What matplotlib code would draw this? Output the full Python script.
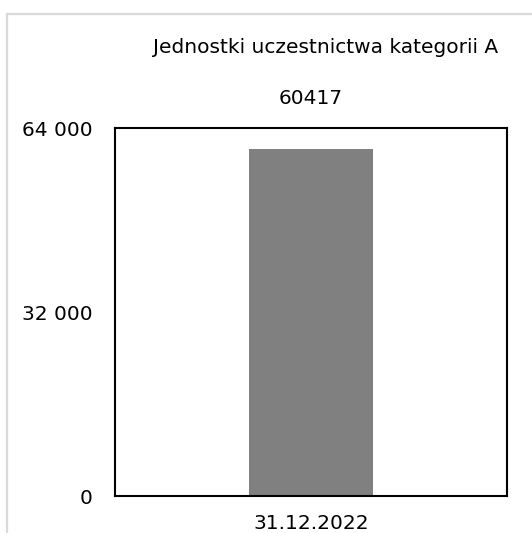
import matplotlib
matplotlib.use("Agg")
import matplotlib.pyplot as plt
from matplotlib.patches import Rectangle
import matplotlib.transforms as mtransforms

plt.rcParams['font.family'] = ['DejaVu Sans']

title = "Jednostki uczestnictwa kategorii A"
categories = ["31.12.2022"]
values = [60417]
data_labels = ["60417"]
yticks = [0, 32000, 64000]
ytick_labels = ["0", "32 000", "64 000"]

W, H = 532, 533
fig = plt.figure(figsize=(W / 100, H / 100), dpi=100)

# light gray outer frame
fig.patches.append(Rectangle((7 / W, -0.1), 1.2, (1 - 14 / H) + 0.1,
                             transform=fig.transFigure, facecolor='none',
                             edgecolor='#d9d9d9', linewidth=1.6, zorder=0))

ax = fig.add_axes([115 / W, 37 / H, 392 / W, 368 / H])
x = list(range(len(categories)))
ax.bar(x, values, width=0.314, color='#808080', zorder=2)
ax.set_xlim(-0.5, 0.5)
ax.set_ylim(0, 64000)
ax.set_yticks(yticks)
ax.set_yticklabels(ytick_labels, fontsize=14.5)
ax.set_xticks(x)
ax.set_xticklabels(categories, fontsize=14.5)
ax.tick_params(axis='y', length=0, pad=16)
ax.tick_params(axis='x', length=0, pad=13)
for s in ax.spines.values():
    s.set_linewidth(1.5)
    s.set_color('black')

fig.text(326 / W, 1 - 47.5 / H, title, ha='center', va='center', fontsize=14.5)

trans = mtransforms.blended_transform_factory(ax.transData, fig.transFigure)
for xi, lab in zip(x, data_labels):
    ax.text(xi, 1 - 99 / H, lab, transform=trans, ha='center', va='center',
            fontsize=14.5, clip_on=False)

fig.savefig("out.png", dpi=100)
